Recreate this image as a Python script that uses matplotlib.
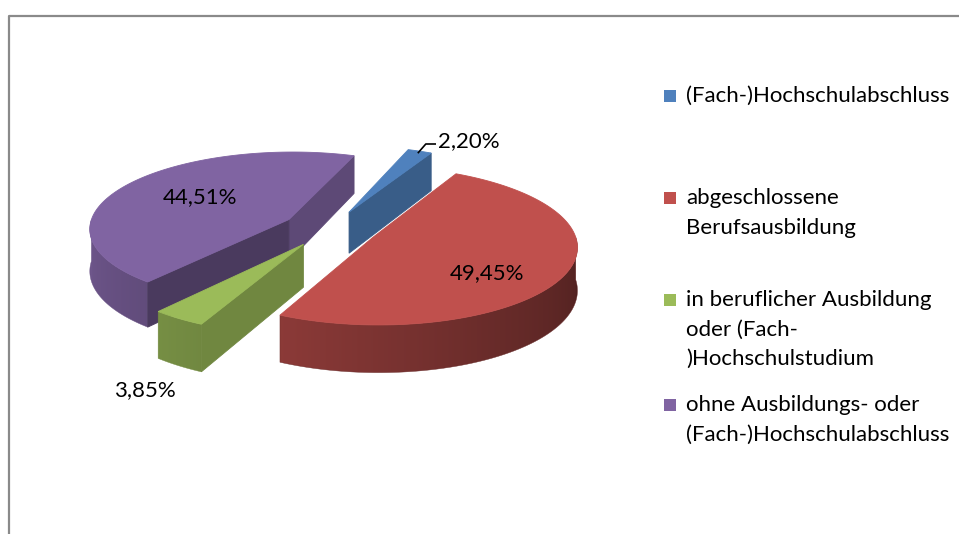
import numpy as np
import matplotlib
matplotlib.use("Agg")
import matplotlib.pyplot as plt
from matplotlib.patches import Polygon, Rectangle
import matplotlib.colors as mcolors

# ---------------- data ----------------
categories = ["(Fach-)Hochschulabschluss",
              "abgeschlossene\nBerufsausbildung",
              "in beruflicher Ausbildung\noder (Fach-\n)Hochschulstudium",
              "ohne Ausbildungs- oder\n(Fach-)Hochschulabschluss"]
values = [2.20, 49.45, 3.85, 44.51]
value_labels = ["2,20%", "49,45%", "3,85%", "44,51%"]
colors = ["#4F81BD", "#C0504D", "#9BBB59", "#8064A2"]

# ---------------- layout ----------------
W, H = 959, 534
FONT = "Lato"
FS = 16
CX, CY = 330, 228.6          # pie centre on screen (px)
R = 200                      # radius (ground units)
TILT = 0.383                 # vertical compression
DEPTH = 42                   # thickness
EXPLODE = 48
DIST = 1867                  # perspective distance
START = 70.0                 # CCW edge of first slice (deg), slices clockwise

label_pos = [(438, 141, "left"), (487, 273, "center"), (145, 390, "center"), (200, 197, "center")]
legend_x_box, legend_x_text = 664, 686
legend_rows = [96, 198, 300, 405]
line_step = 29.5

fig = plt.figure(figsize=(W / 100, H / 100), dpi=100)
ax = fig.add_axes([0, 0, 1, 1])
ax.set_xlim(0, W)
ax.set_ylim(H, 0)
ax.axis("off")


def scr(gx, gy, z=0.0):
    k = 1.0 / (1.0 + gy / DIST)
    return CX + gx * k, CY - gy * TILT * k + z * k


def shade(col, f):
    r, g, b = mcolors.to_rgb(col)
    return (r * f, g * f, b * f)


def wall_factor(theta):
    t = np.mod(theta, 360)
    return np.interp(t, [180, 240, 300, 360], [0.88, 0.74, 0.55, 0.40])


def radial_factor(normal):
    n = normal % 360
    return float(np.interp(n, [300, 322, 330, 360], [0.56, 0.58, 0.72, 0.74]))


fr = np.array(values) / np.sum(values)
spans = fr * 360.0
theta2 = START - np.concatenate([[0.0], np.cumsum(spans)[:-1]])
theta1 = theta2 - spans

slices = []
for i in range(len(values)):
    t1, t2 = theta1[i], theta2[i]
    mid = np.deg2rad((t1 + t2) / 2)
    ox, oy = EXPLODE * np.cos(mid), EXPLODE * np.sin(mid)
    slices.append((i, t1, t2, ox, oy))

# back to front
slices.sort(key=lambda s: -s[4])

for i, t1, t2, ox, oy in slices:
    col = colors[i]
    n = max(int(abs(t2 - t1) * 3), 2)
    angs = np.linspace(t1, t2, n + 1)
    gx = ox + R * np.cos(np.deg2rad(angs))
    gy = oy + R * np.sin(np.deg2rad(angs))
    # outer wall (front-facing part) as one polygon with gradient fill
    front = np.sin(np.deg2rad(angs)) < 0
    if front.sum() >= 2:
        fa = angs[front]
        fgx, fgy = gx[front], gy[front]
        toppts = [scr(a, b) for a, b in zip(fgx, fgy)]
        botpts = [scr(a, b, DEPTH) for a, b in zip(fgx, fgy)]
        poly = Polygon(toppts + botpts[::-1], closed=True, facecolor="none",
                       edgecolor="none", zorder=2)
        ax.add_patch(poly)
        xs = np.array([p[0] for p in toppts])
        order = np.argsort(xs)
        x0, x1 = xs.min() - 1, xs.max() + 1
        ys = [p[1] for p in toppts + botpts]
        y0, y1 = min(ys) - 1, max(ys) + 1
        cols_x = np.linspace(x0, x1, 400)
        ang_x = np.interp(cols_x, xs[order], fa[order])
        f = wall_factor(ang_x)
        base = np.array(mcolors.to_rgb(col))
        img = (f[:, None] * base[None, :])[None, :, :]
        im = ax.imshow(img, extent=(x0, x1, y1, y0), aspect="auto",
                       interpolation="bilinear", zorder=2)
        im.set_clip_path(poly)
        ax.add_patch(Polygon(toppts + botpts[::-1], closed=True, facecolor="none",
                             edgecolor=shade(col, float(wall_factor(fa.mean()))),
                             lw=0.3, zorder=2))
    # radial walls
    for ang, normal in ((t1, t1 - 90), (t2, t2 + 90)):
        if np.sin(np.deg2rad(normal)) < -1e-9:
            ex = ox + R * np.cos(np.deg2rad(ang))
            ey = oy + R * np.sin(np.deg2rad(ang))
            pts = [scr(ox, oy), scr(ex, ey), scr(ex, ey, DEPTH), scr(ox, oy, DEPTH)]
            c = shade(col, radial_factor(normal))
            ax.add_patch(Polygon(pts, closed=True, facecolor=c, edgecolor=c,
                                 lw=0.6, zorder=2))
    # top face
    top = [scr(ox, oy)] + [scr(a, b) for a, b in zip(gx, gy)]
    ax.add_patch(Polygon(top, closed=True, facecolor=col, edgecolor=col,
                         lw=0.6, zorder=2))

ax.set_xlim(0, W)
ax.set_ylim(H, 0)

# value labels
for i, (lx, ly, ha) in enumerate(label_pos):
    ax.text(lx, ly, value_labels[i], fontsize=FS, family=FONT, ha=ha,
            va="center", color="black", zorder=5)

# leader line for the small first slice
i0 = 0
mid0 = (theta1[i0] + theta2[i0]) / 2
ox0 = EXPLODE * np.cos(np.deg2rad(mid0)); oy0 = EXPLODE * np.sin(np.deg2rad(mid0))
sx, sy = scr(ox0 + R * np.cos(np.deg2rad(mid0)), oy0 + R * np.sin(np.deg2rad(mid0)))
lx, ly, _ = label_pos[0]
ax.plot([sx - 2, sx + 6, lx - 2], [sy + 2, ly + 3, ly + 3], color="black", lw=1.2,
        zorder=4, solid_capstyle="butt")

# legend
for i, cat in enumerate(categories):
    y0 = legend_rows[i]
    ax.add_patch(Rectangle((legend_x_box, y0 - 6), 12, 12, facecolor=colors[i],
                           edgecolor="none", zorder=5))
    for k, line in enumerate(cat.split("\n")):
        ax.text(legend_x_text, y0 + k * line_step, line, fontsize=FS, family=FONT,
                ha="left", va="center", color="black", zorder=5)

# chart border
ax.plot([8.5, 8.5, W + 5], [H + 5, 15.5, 15.5], color="#8A8A8A", lw=1.6, zorder=6)

fig.savefig("out.png", dpi=100)
